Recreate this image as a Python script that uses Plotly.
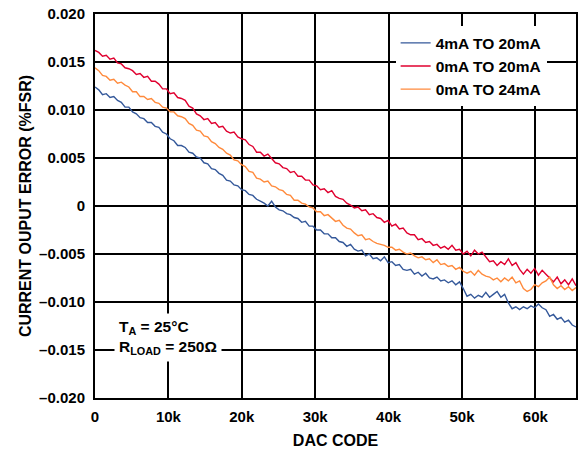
import plotly.graph_objects as go

# DAC codes (x categories): 0 .. 65535 in steps of 512
dac_codes = [min(i * 512, 65535) for i in range(129)]

# Current output error (%FSR)
err_4_20 = [
    0.0124, 0.0121, 0.0116, 0.0117, 0.0113, 0.0114, 0.0110, 0.0108, 0.0103, 0.0103,
    0.0098, 0.0096, 0.0092, 0.0091, 0.0087, 0.0087, 0.0083, 0.0082, 0.0077, 0.0075,
    0.0070, 0.0068, 0.0063, 0.0063, 0.0061, 0.0056, 0.0055, 0.0051, 0.0050, 0.0045,
    0.0044, 0.0039, 0.0038, 0.0034, 0.0032, 0.0027, 0.0026, 0.0022, 0.0021, 0.0017,
    0.0016, 0.0012, 0.0011, 0.0007, 0.0005, 0.0003, 0.0000, 0.0005, -0.0001, -0.0004,
    -0.0005, -0.0008, -0.0009, -0.0012, -0.0013, -0.0017, -0.0016, -0.0021, -0.0021, -0.0025,
    -0.0025, -0.0029, -0.0029, -0.0033, -0.0033, -0.0037, -0.0038, -0.0042, -0.0040, -0.0045,
    -0.0047, -0.0046, -0.0052, -0.0050, -0.0055, -0.0054, -0.0057, -0.0053, -0.0059, -0.0058,
    -0.0062, -0.0061, -0.0066, -0.0067, -0.0066, -0.0071, -0.0069, -0.0073, -0.0070, -0.0075,
    -0.0076, -0.0074, -0.0078, -0.0077, -0.0080, -0.0078, -0.0082, -0.0079, -0.0086, -0.0094,
    -0.0092, -0.0096, -0.0093, -0.0095, -0.0090, -0.0095, -0.0092, -0.0089, -0.0095, -0.0092,
    -0.0101, -0.0107, -0.0105, -0.0108, -0.0105, -0.0107, -0.0104, -0.0106, -0.0102, -0.0106,
    -0.0108, -0.0115, -0.0113, -0.0118, -0.0116, -0.0121, -0.0119, -0.0124, -0.0126,
]
err_0_20 = [
    0.0162, 0.0160, 0.0156, 0.0157, 0.0153, 0.0154, 0.0149, 0.0148, 0.0144, 0.0143,
    0.0141, 0.0137, 0.0138, 0.0134, 0.0135, 0.0130, 0.0130, 0.0127, 0.0122, 0.0122,
    0.0117, 0.0118, 0.0113, 0.0112, 0.0110, 0.0104, 0.0102, 0.0096, 0.0094, 0.0090,
    0.0091, 0.0086, 0.0087, 0.0082, 0.0083, 0.0078, 0.0076, 0.0077, 0.0072, 0.0070,
    0.0069, 0.0064, 0.0062, 0.0056, 0.0056, 0.0052, 0.0054, 0.0049, 0.0045, 0.0044,
    0.0040, 0.0039, 0.0035, 0.0036, 0.0031, 0.0031, 0.0027, 0.0027, 0.0022, 0.0021,
    0.0017, 0.0018, 0.0014, 0.0016, 0.0010, 0.0008, 0.0007, 0.0003, 0.0001, -0.0002,
    -0.0001, -0.0005, -0.0004, -0.0009, -0.0008, -0.0012, -0.0013, -0.0017, -0.0015, -0.0021,
    -0.0019, -0.0024, -0.0023, -0.0028, -0.0030, -0.0030, -0.0035, -0.0034, -0.0038, -0.0037,
    -0.0041, -0.0040, -0.0044, -0.0042, -0.0045, -0.0041, -0.0046, -0.0045, -0.0050, -0.0047,
    -0.0052, -0.0046, -0.0050, -0.0048, -0.0053, -0.0058, -0.0057, -0.0062, -0.0058, -0.0061,
    -0.0055, -0.0062, -0.0059, -0.0066, -0.0071, -0.0066, -0.0070, -0.0065, -0.0072, -0.0067,
    -0.0071, -0.0075, -0.0079, -0.0074, -0.0081, -0.0077, -0.0082, -0.0076, -0.0083,
]
err_0_24 = [
    0.0144, 0.0141, 0.0136, 0.0135, 0.0131, 0.0132, 0.0128, 0.0129, 0.0126, 0.0124,
    0.0119, 0.0119, 0.0114, 0.0114, 0.0111, 0.0112, 0.0108, 0.0107, 0.0103, 0.0102,
    0.0098, 0.0098, 0.0094, 0.0093, 0.0091, 0.0086, 0.0084, 0.0079, 0.0078, 0.0073,
    0.0072, 0.0067, 0.0065, 0.0061, 0.0059, 0.0055, 0.0053, 0.0048, 0.0047, 0.0043,
    0.0041, 0.0036, 0.0035, 0.0029, 0.0028, 0.0025, 0.0026, 0.0021, 0.0020, 0.0017,
    0.0016, 0.0012, 0.0011, 0.0006, 0.0006, 0.0003, 0.0002, -0.0001, -0.0002, -0.0006,
    -0.0006, -0.0010, -0.0009, -0.0013, -0.0016, -0.0015, -0.0020, -0.0023, -0.0024, -0.0028,
    -0.0031, -0.0030, -0.0035, -0.0034, -0.0037, -0.0039, -0.0040, -0.0041, -0.0043, -0.0043,
    -0.0046, -0.0045, -0.0048, -0.0050, -0.0049, -0.0052, -0.0054, -0.0053, -0.0056, -0.0055,
    -0.0059, -0.0056, -0.0061, -0.0060, -0.0063, -0.0062, -0.0066, -0.0064, -0.0068, -0.0070,
    -0.0068, -0.0072, -0.0067, -0.0071, -0.0073, -0.0074, -0.0077, -0.0075, -0.0079, -0.0075,
    -0.0078, -0.0074, -0.0080, -0.0078, -0.0086, -0.0089, -0.0087, -0.0082, -0.0084, -0.0080,
    -0.0078, -0.0074, -0.0082, -0.0086, -0.0083, -0.0087, -0.0084, -0.0088, -0.0085,
]

series_names = ["4mA TO 20mA", "0mA TO 20mA", "0mA TO 24mA"]
series_values = [err_4_20, err_0_20, err_0_24]
series_colors = ["#34589a", "#e0002f", "#ff8a3c"]

x_tick_vals = [0, 10000, 20000, 30000, 40000, 50000, 60000]
x_tick_text = ["0", "10k", "20k", "30k", "40k", "50k", "60k"]
y_tick_vals = [0.02, 0.015, 0.01, 0.005, 0.0, -0.005, -0.01, -0.015, -0.02]
y_tick_text = ["0.020", "0.015", "0.010", "0.005", "0",
               "\u20130.005", "\u20130.010", "\u20130.015", "\u20130.020"]

FONT = "Liberation Sans, Arial, sans-serif"

fig = go.Figure()
for name, vals, color in zip(series_names, series_values, series_colors):
    fig.add_trace(go.Scatter(
        x=dac_codes, y=vals, mode="lines", name=name,
        line=dict(color=color, width=1.4),
    ))

axis_common = dict(
    showgrid=True, gridcolor="black", gridwidth=1.5,
    showline=True, linecolor="black", linewidth=2, mirror=True,
    zeroline=False, ticks="", automargin=False,
    tickfont=dict(family=FONT, size=15, color="black", weight="bold"),
)

fig.update_layout(
    width=579, height=449,
    margin=dict(l=95, r=3, t=14, b=51),
    paper_bgcolor="white", plot_bgcolor="white",
    font=dict(family=FONT, color="black"),
    xaxis=dict(
        range=[0, 65535], tickvals=x_tick_vals, ticktext=x_tick_text,
        title=dict(text="DAC CODE", font=dict(family=FONT, size=16, weight="bold"), standoff=14),
        ticklabelstandoff=4,
        **axis_common,
    ),
    yaxis=dict(
        range=[-0.02, 0.02], tickvals=y_tick_vals, ticktext=y_tick_text,
        title=dict(text="CURRENT OUPUT ERROR (%FSR)", font=dict(family=FONT, size=16, weight="bold"), standoff=4),
        ticklabelstandoff=5,
        **axis_common,
    ),
    legend=dict(
        x=0.625, y=0.968, xanchor="left", yanchor="top",
        bgcolor="white", borderwidth=0,
        font=dict(family=FONT, size=15.5, color="black", weight="bold"),
    ),
    annotations=[dict(
        xref="paper", yref="paper", x=0.04, y=0.222, xanchor="left", yanchor="top",
        text="T<sub>A</sub> = 25°C<br>R<sub>LOAD</sub> = 250Ω",
        showarrow=False, align="left", bgcolor="white", borderpad=4,
        font=dict(family=FONT, size=15.5, color="black", weight="bold"),
    )],
)

fig.write_html("out.html", config={"displayModeBar": False},
               post_script="document.body.style.margin='0';")
